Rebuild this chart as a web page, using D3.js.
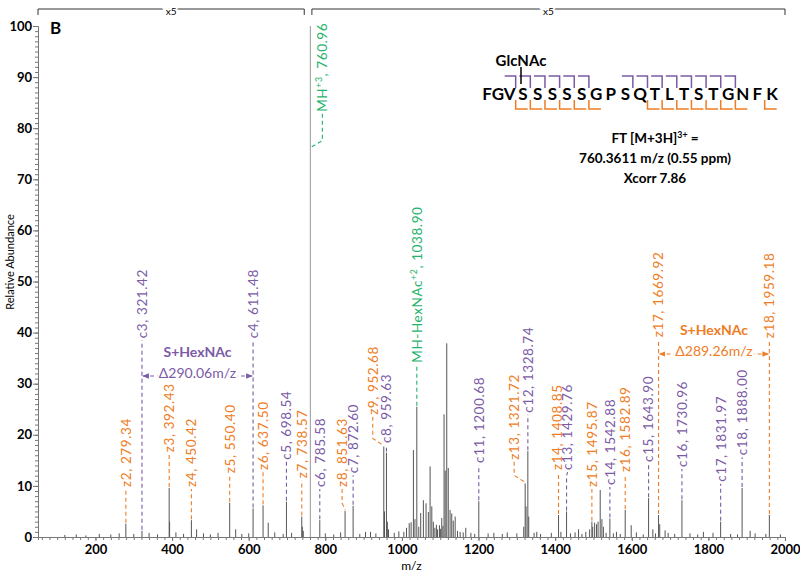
<!DOCTYPE html>
<html><head><meta charset="utf-8">
<script src="https://cdn.jsdelivr.net/npm/d3@7"></script>
<style>body{margin:0;background:#fff}svg{display:block}</style>
</head><body><svg id="c" width="800" height="577"></svg>
<script>
// ---------- DATA ----------
const xTicks = [200,400,600,800,1000,1200,1400,1600,1800,2000];
const yTicks = [0,10,20,30,40,50,60,70,80,90,100];

// annotated fragment peaks
const annLabel = ["z2, 279.34","c3, 321.42","z3, 392.43","z4, 450.42","z5, 550.40","c4, 611.48","z6, 637.50","c5, 698.54","z7, 738.57","MH^+3^, 760.96","c6, 785.58","z8, 851.63","c7, 872.60","z9, 952.68","c8, 959.63","MH-HexNAc^+2^, 1038.90","c11, 1200.68","z13, 1321.72","c12, 1328.74","z14, 1408.85","c13, 1429.76","z15, 1495.87","c14, 1542.88","z16, 1582.89","c15, 1643.90","z17, 1669.92","c16, 1730.96","c17, 1831.97","c18, 1888.00","z18, 1959.18"];
const annMz = [279.34,321.42,392.43,450.42,550.40,611.48,637.50,698.54,738.57,760.96,785.58,851.63,872.60,952.68,959.63,1038.90,1200.68,1321.72,1328.74,1408.85,1429.76,1495.87,1542.88,1582.89,1643.90,1669.92,1730.96,1831.97,1888.00,1959.18];
const annInt = [2.6,1.2,9.6,3.3,6.7,5.6,6.2,6.9,4.0,100,3.3,5.1,6.1,17.7,16.5,25.5,7.0,10.5,16.8,4.3,5.0,3.0,3.6,5.3,7.6,4.3,7.2,3.0,9.6,4.3];
const annType = ["z","c","z","z","z","c","z","c","z","m","c","z","c","z","c","m","c","z","c","z","c","z","c","z","c","z","c","c","c","z"];

// other (unlabelled) peaks
const otherMz = [393.5,464,566,651,740,742.5,918,954.5,962,965,1005,1012,1019,1024,1030,1034,1044,1049,1056,1063,1069,1073.5,1078,1082,1086,1090,1093,1098,1101,1104,1107,1110,1113,1117,1121,1125.7,1130,1134,1139,1145,1152,1166.7,1180,1318,1324,1331,1415,1461,1480,1490,1498,1503,1508,1512,1517.6,1522,1526,1560,1598.5,1655,1673,1687,1787,1909,
  120,150,175,210,240,262,300,340,362,410,430,482,500,520,582,600,668,690,712,800,822,840,890,905,932,980,992,1160,1190,1225,1240,1262,1275,1300,1345,1352,1362,1390,1440,1452,1470,1533,1552,1570,1612,1630,1662,1695,1712,1752,1772,1812,1858,1876,1922,1950,1988];
const otherInt = [3.0,1.5,1.5,2.8,2.0,1.2,1.0,5.0,3.0,1.5,1.0,1.8,2.7,2.9,17.0,3.5,2.0,4.7,7.2,6.6,4.9,13.8,6.0,3.0,1.8,2.4,1.5,2.3,1.6,3.7,2.2,24.0,13.0,37.9,13.5,5.3,4.6,3.2,4.0,1.2,1.0,1.8,0.8,2.0,6.0,4.0,1.0,1.5,1.0,1.5,2.0,2.8,2.5,3.0,9.2,3.5,2.0,1.0,2.3,1.5,2.5,1.3,1.0,1.2,
  0.4,0.5,0.3,0.6,0.5,0.7,0.6,0.8,0.5,0.9,0.6,0.7,0.5,0.8,0.6,0.7,0.9,0.6,0.8,0.7,0.5,0.9,0.6,1.0,0.7,0.8,1.1,0.9,0.6,0.7,0.8,0.6,0.9,0.7,0.8,1.0,0.6,0.8,0.7,0.9,0.6,0.8,0.7,0.6,0.9,0.5,0.7,0.8,0.6,0.7,0.5,0.8,0.6,0.5,0.7,0.6,0.5];

// peptide sequence and cleavages
const residues = ["F","G","V","S","S","S","S","S","G","P","S","Q","T","L","T","S","T","G","N","F","K"];
const cCuts = [3,4,5,6,7,8,11,12,13,14,15,16,17,18];
const zCuts = [3,4,5,6,7,8,12,13,14,15,16,17,18,20];
const glycoSite = 4;

// ---------- LAYOUT ----------
const annLabelAt = [9.8,38.9,16.6,9.8,12.5,38.9,13.1,15.1,11.5,83.2,9.8,9.8,12.5,23.9,18.4,34.1,14.5,15.1,24.3,13.1,13.1,9.8,10.2,12.7,14.7,39.1,13.7,10.8,16.0,38.9];
const annShift = [0,0,0,0,0,0,0,0,0,12,0,-3,0,-11,0,0,0,-11,0,-1,1,0,0,0,0,0,0,0,0,0];
const annLeaderEnd = [null,null,null,null,null,null,null,null,null,76,null,null,null,null,null,null,null,null,null,null,null,null,null,null,null,null,null,null,null,null];

const COL = {c:"#7b5ba6", z:"#ee7d25", m:"#1fb36b"};
const FONT = "Lato, 'Open Sans', sans-serif";

const svg = d3.select("#c").attr("font-family", FONT);
const x = d3.scaleLinear().domain([50,2000]).range([38,785]);
const y = d3.scaleLinear().domain([0,100]).range([537,26]);

// ---------- AXES ----------
const gy = svg.append("g").attr("transform","translate(38,0)");
gy.call(d3.axisLeft(y).tickValues(d3.range(0,101,1)).tickSize(3).tickFormat(""))
  .call(g=>g.selectAll("path,line").attr("stroke","#777"));
gy.append("g").call(d3.axisLeft(y).tickValues(yTicks).tickSize(5).tickPadding(1).tickFormat(d3.format("d")))
  .call(g=>{g.select(".domain").remove();g.selectAll("line").attr("stroke","#777");
    g.selectAll("text").attr("font-family",FONT).attr("font-size",13).attr("font-weight","bold").attr("fill","#000");});

const gx = svg.append("g").attr("transform","translate(0,537)");
gx.call(d3.axisBottom(x).tickValues(d3.range(60,2001,20)).tickSize(3).tickFormat(""))
  .call(g=>g.selectAll("path,line").attr("stroke","#777"));
gx.append("g").call(d3.axisBottom(x).tickValues(xTicks).tickSize(4).tickPadding(4).tickFormat(d3.format("d")))
  .call(g=>{g.select(".domain").remove();g.selectAll("line").attr("stroke","#777");
    g.selectAll("text").attr("font-family",FONT).attr("font-size",13).attr("font-weight","bold").attr("fill","#000");});

svg.append("text").attr("transform","translate(14,262) rotate(-90)").attr("text-anchor","middle")
  .attr("font-size",11).text("Relative Abundance");
svg.append("text").attr("x",x(1025)).attr("y",570).attr("text-anchor","middle").attr("font-size",12).text("m/z");
svg.append("text").attr("x",50).attr("y",34).attr("font-size",17).attr("font-weight","bold").text("B");

// ---------- x5 BRACKETS ----------
[[50,745],[765,2000]].forEach(([a,b])=>{
  const x0=x(a), x1=x(b);
  svg.append("path").attr("d",`M${x0},15V9H${x1}V15`).attr("fill","none").attr("stroke","#333").attr("stroke-width",1);
  svg.append("text").attr("x",(x0+x1)/2).attr("y",15).attr("text-anchor","middle").attr("font-size",10)
    .attr("stroke","#fff").attr("stroke-width",4).attr("paint-order","stroke").text("x5");
});

// ---------- SPECTRUM ----------
const peaks = otherMz.map((m,i)=>({mz:m,int:otherInt[i]})).concat(annMz.map((m,i)=>({mz:m,int:annInt[i]})));
svg.append("g").selectAll("line").data(peaks).join("line")
  .attr("x1",d=>x(d.mz)).attr("x2",d=>x(d.mz)).attr("y1",y(0)).attr("y2",d=>y(d.int))
  .attr("stroke",d=>d.int>=99?"#999":"#555").attr("stroke-width",1);

// ---------- ANNOTATIONS ----------
function addRich(sel, str){
  str.split("^").forEach((s,i)=>{
    if(!s) return;
    const t = sel.append("tspan").text(s);
    if(i%2===1){ t.attr("font-size","0.65em").attr("baseline-shift","super"); }
  });
}
const ga = svg.append("g");
annMz.forEach((m,i)=>{
  const col = COL[annType[i]];
  const px = x(m), py = y(annLeaderEnd[i]!=null?annLeaderEnd[i]:annInt[i]);
  const tx = px + annShift[i], ty = y(annLabelAt[i]);
  let d;
  if(Math.abs(annShift[i])<2) d = `M${px},${py-1}V${ty+6}L${tx},${ty+2}`;
  else d = `M${tx},${ty+2}V${py-8}L${px},${py-1}`;
  ga.append("path").attr("d",d).attr("fill","none").attr("stroke",col).attr("stroke-width",1.1).attr("stroke-dasharray","4,3");
  const t = ga.append("text").attr("transform",`translate(${tx},${ty}) rotate(-90)`).attr("dy","0.36em")
    .attr("fill",col).attr("font-size",13.5).attr("letter-spacing","0.6");
  addRich(t, annLabel[i]);
});

// S+HexNAc delta arrows
svg.append("defs").html(`
<marker id="ap" viewBox="0 0 10 10" refX="9" refY="5" markerWidth="6" markerHeight="6" orient="auto-start-reverse"><path d="M0,1L10,5L0,9z" fill="${COL.c}"/></marker>
<marker id="az" viewBox="0 0 10 10" refX="9" refY="5" markerWidth="6" markerHeight="6" orient="auto-start-reverse"><path d="M0,1L10,5L0,9z" fill="${COL.z}"/></marker>`);
function deltaArrow(m0,m1,yy,col,mk,txt){
  const a=x(m0), b=x(m1), c=(a+b)/2;
  svg.append("line").attr("x1",a+1).attr("x2",b-1).attr("y1",yy).attr("y2",yy).attr("stroke",col)
    .attr("stroke-dasharray","4,3").attr("stroke-width",1.1).attr("marker-start",`url(#${mk})`).attr("marker-end",`url(#${mk})`);
  svg.append("text").attr("x",c).attr("y",yy-19).attr("text-anchor","middle").attr("fill",col).attr("font-size",14).attr("font-weight","bold").text("S+HexNAc");
  svg.append("text").attr("x",c).attr("y",yy+2).attr("text-anchor","middle").attr("fill",col).attr("font-size",14)
    .attr("stroke","#fff").attr("stroke-width",4).attr("paint-order","stroke").text(txt);
}
deltaArrow(321.42,611.48,376,COL.c,"ap","Δ290.06m/z");
deltaArrow(1669.92,1959.18,354,COL.z,"az","Δ289.26m/z");

// ---------- SEQUENCE ----------
const resX = d3.scaleLinear().domain([4,21]).range([523,772]);
const gs = svg.append("g");
gs.append("text").attr("x",resX(3.5)).attr("y",100).attr("text-anchor","end").attr("font-size",17).attr("font-weight","bold")
  .text(residues.slice(0,3).join(""));
residues.slice(3).forEach((r,k)=>{
  gs.append("text").attr("x",resX(k+4)).attr("y",100).attr("text-anchor","middle").attr("font-size",17).attr("font-weight","bold").text(r);
});
cCuts.forEach(n=>{
  const gxp = resX(n+0.5);
  gs.append("path").attr("d",`M${gxp-11},76H${gxp}V88`).attr("fill","none").attr("stroke",COL.c).attr("stroke-width",1.5);
});
zCuts.forEach(n=>{
  const gxp = resX(n+0.5);
  gs.append("path").attr("d",`M${gxp},100V109H${gxp+12}`).attr("fill","none").attr("stroke",COL.z).attr("stroke-width",1.5);
});
const gsx = resX(glycoSite)-2;
gs.append("line").attr("x1",gsx).attr("x2",gsx).attr("y1",67).attr("y2",84).attr("stroke","#000").attr("stroke-width",1.5);
gs.append("text").attr("x",gsx).attr("y",66).attr("text-anchor","middle").attr("font-size",15).attr("font-weight","bold").text("GlcNAc");

// ---------- INFO ----------
const info = svg.append("g").attr("font-size",13.5).attr("font-weight","bold").attr("text-anchor","middle");
const l1 = info.append("text").attr("x",655).attr("y",143);
addRich(l1,"FT [M+3H]^3+^ =");
info.append("text").attr("x",655).attr("y",163).text("760.3611 m/z (0.55 ppm)");
info.append("text").attr("x",655).attr("y",183).text("Xcorr 7.86");
</script></body></html>
